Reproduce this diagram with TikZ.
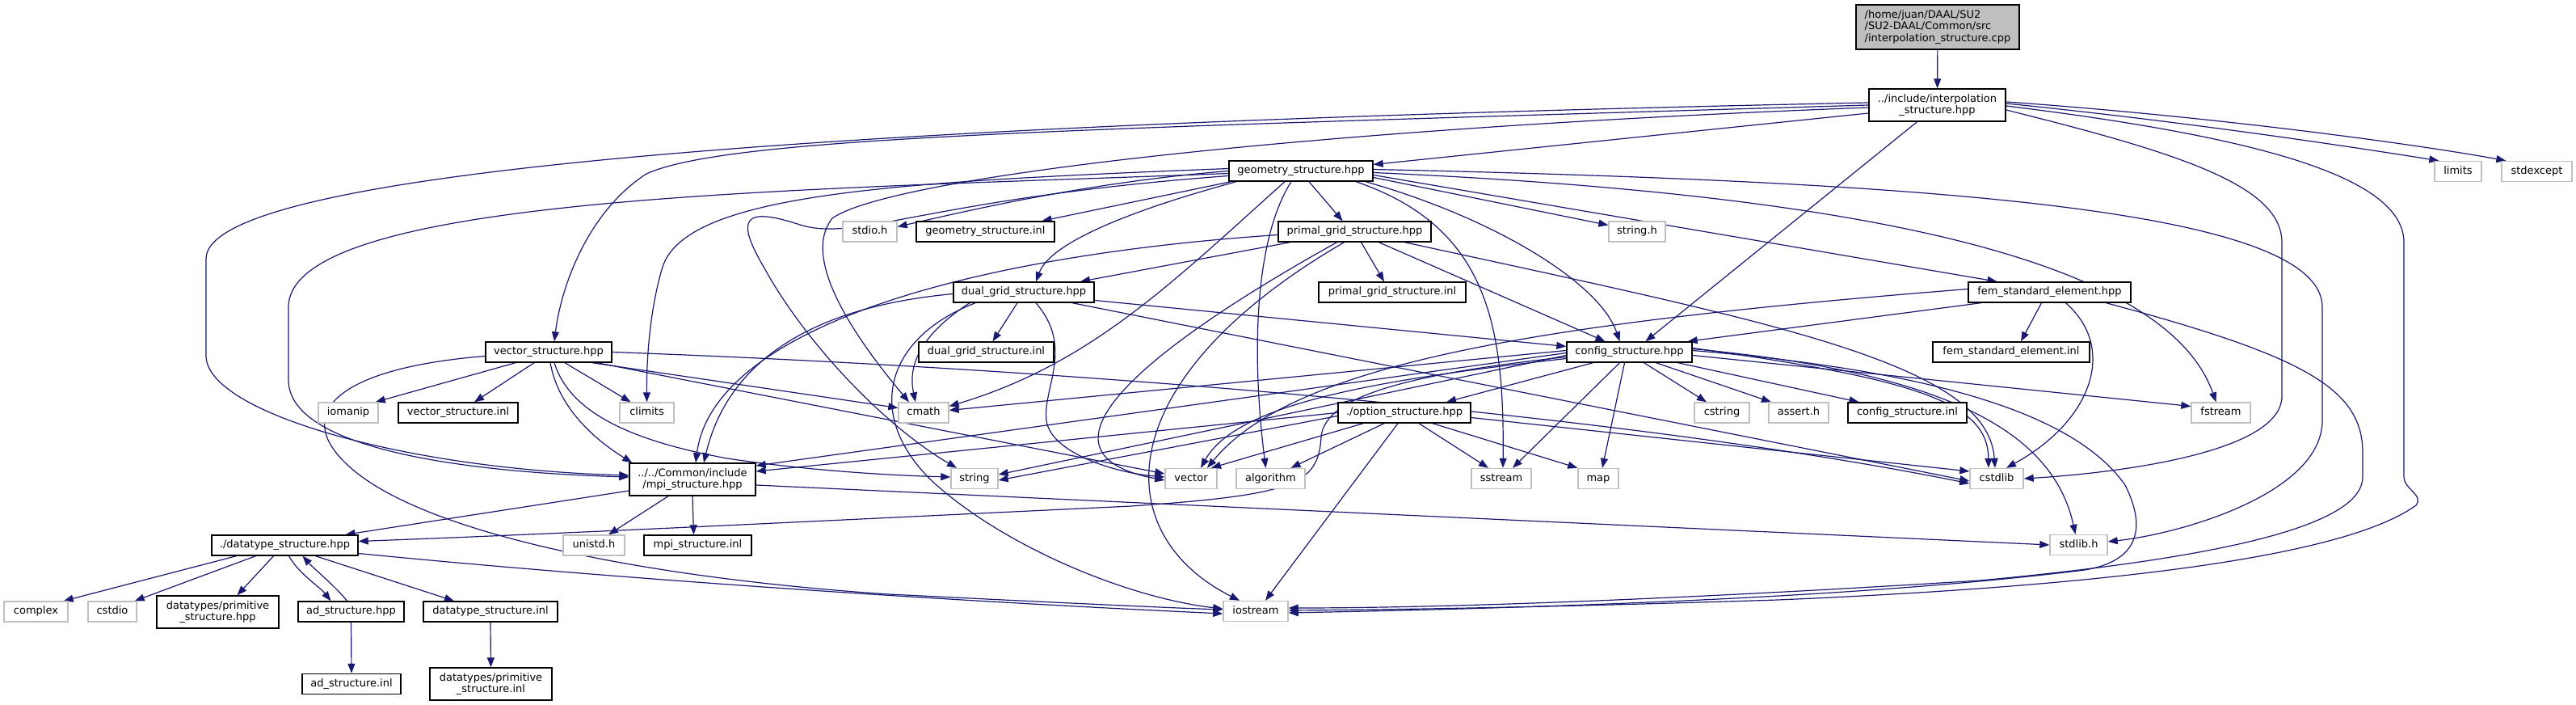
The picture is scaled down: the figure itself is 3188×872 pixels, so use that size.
\documentclass[tikz,border=0pt]{standalone}
\usepackage{fontspec}
\setmainfont{DejaVu Sans}
\usetikzlibrary{arrows.meta}
\definecolor{edgeblue}{HTML}{191970}
\definecolor{sysgray}{HTML}{BFBFBF}
\definecolor{rootgray}{HTML}{BFBFBF}
\pgfdeclarelayer{bg}
\pgfsetlayers{bg,main}
\tikzset{
  nb/.style={draw=black, fill=white, line width=1.4pt, inner xsep=2pt, inner ysep=0pt, minimum height=25pt, text height=9.5pt, text depth=3pt},
  ns/.style={nb, draw=sysgray},
  nm/.style={draw=black, fill=white, line width=1.4pt, inner xsep=2pt, inner ysep=0pt, minimum height=40pt, align=center},
  edg/.style={draw=edgeblue, line width=1.2pt, -{Triangle[length=12pt,width=9pt]}},
}
\begin{document}
\begin{tikzpicture}[x=1pt,y=-1pt,font=\fontsize{13}{14.5}\selectfont]
\path[use as bounding box] (0,0) rectangle (3188,872);
% nodes
\node[nm, fill=rootgray, align=left, minimum width=202pt, minimum height=55pt] (root) at (2398,33.5) {/home/juan/DAAL/SU2\\/SU2-DAAL/Common/src\\/interpolation\_structure.cpp};
\node[nm, minimum width=169pt] (interp) at (2397.5,130) {../include/interpolation\\\_structure.hpp};
\node[nb, minimum width=178pt] (geom) at (1610,211.5) {geometry\_structure.hpp};
\node[ns, minimum width=58pt] (limits) at (3042,212) {limits};
\node[ns, minimum width=87pt] (stdexc) at (3139.5,212) {stdexcept};
\node[nb, minimum width=156pt] (vecs) at (679,435.5) {vector\_structure.hpp};
\node[ns, minimum width=67pt] (stdioh) at (1076.5,286.5) {stdio.h};
\node[nb, minimum width=171pt] (geominl) at (1219.5,286.5) {geometry\_structure.inl};
\node[nb, minimum width=189pt] (primal) at (1676.5,286.5) {primal\_grid\_structure.hpp};
\node[ns, minimum width=70pt] (stringh) at (2026,286.5) {string.h};
\node[nb, minimum width=174pt] (dual) at (1267,361.5) {dual\_grid\_structure.hpp};
\node[nb, minimum width=182pt] (primalinl) at (1723,361.5) {primal\_grid\_structure.inl};
\node[nb, minimum width=201pt] (fem) at (2536.5,361.5) {fem\_standard\_element.hpp};
\node[nb, minimum width=167pt] (dualinl) at (1220.5,435.5) {dual\_grid\_structure.inl};
\node[nb, minimum width=155pt] (config) at (2016.5,435.5) {config\_structure.hpp};
\node[nb, minimum width=194pt] (feminl) at (2489,435.5) {fem\_standard\_element.inl};
\node[ns, minimum width=74pt] (iomanip) at (431,510.5) {iomanip};
\node[nb, minimum width=148pt] (vecinl) at (567,510.5) {vector\_structure.inl};
\node[ns, minimum width=67pt] (climits) at (800.5,510.5) {climits};
\node[ns, minimum width=62pt] (cmath) at (1143,510.5) {cmath};
\node[nb, minimum width=164pt] (option) at (1738,510.5) {./option\_structure.hpp};
\node[ns, minimum width=68pt] (cstring) at (2131,510.5) {cstring};
\node[ns, minimum width=74pt] (asserth) at (2226,510.5) {assert.h};
\node[nb, minimum width=147pt] (configinl) at (2360.5,510.5) {config\_structure.inl};
\node[ns, minimum width=73pt] (fstream) at (2748.5,510.5) {fstream};
\node[nm, minimum width=156pt] (mpi) at (857,593) {../../Common/include\\/mpi\_structure.hpp};
\node[ns, minimum width=58pt] (string) at (1206,592) {string};
\node[ns, minimum width=64pt] (vector) at (1474,592) {vector};
\node[ns, minimum width=85pt] (algorithm) at (1572.5,592) {algorithm};
\node[ns, minimum width=74pt] (sstream) at (1858,592) {sstream};
\node[ns, minimum width=50pt] (map) at (1978,592) {map};
\node[ns, minimum width=66pt] (cstdlib) at (2471,592) {cstdlib};
\node[nb, minimum width=181pt] (datatype) at (352.5,674.5) {./datatype\_structure.hpp};
\node[ns, minimum width=76pt] (unistd) at (735,674.5) {unistd.h};
\node[nb, minimum width=133pt] (mpiinl) at (863.5,674.5) {mpi\_structure.inl};
\node[ns, minimum width=71pt] (stdlibh) at (2572.5,674) {stdlib.h};
\node[ns, minimum width=79pt] (complex) at (44.5,756.5) {complex};
\node[ns, minimum width=60pt] (cstdio) at (139,756.5) {cstdio};
\node[nm, minimum width=151pt] (primhpp) at (269.5,757) {datatypes/primitive\\\_structure.hpp};
\node[nb, minimum width=131pt] (ad) at (434.5,756.5) {ad\_structure.hpp};
\node[nb, minimum width=166pt] (datainl) at (607,756.5) {datatype\_structure.inl};
\node[ns, minimum width=80pt] (iostream) at (1554,756) {iostream};
\node[nb, minimum width=122pt] (adinl) at (435,846) {ad\_structure.inl};
\node[nm, minimum width=151pt] (priminl) at (607.5,846) {datatypes/primitive\\\_structure.inl};

\begin{pgfonlayer}{bg}
% root / interp
\draw[edg] (root) -- (interp);
\draw[edg] ([yshift=-10pt]interp.west) -- ([yshift=8pt]geom.east);
\draw[edg] ([yshift=3pt]interp.west) .. controls (1200,150) and (255,200) .. (255,320) -- (255,440) .. controls (255,510) and (500,580) .. ([yshift=5pt]mpi.west);
\draw[edg] (interp.west) .. controls (1300,160) and (900,170) .. (800,215) .. controls (730,260) and (695,350) .. ([xshift=7pt]vecs.north);
\draw[edg] ([yshift=-3pt]interp.west) .. controls (1600,160) and (1100,220) .. (1030,270) .. controls (990,320) and (1060,420) .. ([xshift=-18pt]cmath.north);
\draw[edg] ([xshift=-25pt]interp.south) -- ([xshift=20pt]config.north);
\draw[edg] ([yshift=2pt]interp.east) .. controls (2700,150) and (2900,180) .. ([xshift=6pt]limits.north west);
\draw[edg] ([yshift=4pt]interp.east) .. controls (2750,145) and (3000,180) .. ([xshift=6pt]stdexc.north west);
\draw[edg] ([yshift=-6pt]interp.east) .. controls (2700,190) and (2824,230) .. (2824,300) -- (2824,490) .. controls (2824,560) and (2620,585) .. (cstdlib.east);
\draw[edg] ([yshift=-1pt]interp.east) .. controls (2800,170) and (2975,220) .. (2975,300) -- (2975,590) .. controls (2975,605) and (3000,612) .. (2990,625) .. controls (2900,690) and (2600,725) .. (2200,742) .. controls (1950,750) and (1750,754) .. ([yshift=1pt]iostream.east);
% geometry
\draw[edg] ([yshift=-3pt]geom.west) .. controls (1000,235) and (357,240) .. (357,380) -- (357,470) .. controls (357,560) and (600,585) .. ([yshift=3pt]mpi.west);
\draw[edg] ([yshift=-6pt]geom.west) .. controls (1150,245) and (1060,300) .. (990,278) .. controls (920,255) and (910,270) .. (945,330) .. controls (1000,430) and (1100,530) .. ([xshift=-22pt]string.north);
\draw[edg] ([yshift=-2pt]geom.east) .. controls (2300,240) and (2680,320) .. ([xshift=-6pt]fstream.north);
\draw[edg] ([yshift=2pt]geom.east) .. controls (2400,225) and (2874,260) .. (2874,380) -- (2874,520) .. controls (2874,610) and (2700,660) .. ([yshift=4pt]stdlibh.east);
\draw[edg] ([yshift=-8pt]geom.east) -- ([yshift=8pt]stringh.west);
\draw[edg] ([yshift=-5pt]geom.east) -- ([xshift=-65pt]fem.north);
\draw[edg] ([xshift=80pt]geom.south) .. controls (1850,270) and (1980,350) .. ([xshift=-12pt]config.north);
\draw[edg] ([xshift=10pt]geom.south) -- ([xshift=-15pt]primal.north);
\draw[edg] ([xshift=-80pt]geom.south) .. controls (1400,260) and (1300,300) .. ([xshift=15pt]dual.north);
\draw[edg] ([xshift=3pt]geom.south west) -- ([xshift=70pt]geominl.north);
\draw[edg] (geom.west) .. controls (1350,225) and (1200,260) .. ([yshift=6pt]stdioh.east);
\draw[edg] ([yshift=3pt]geom.west) .. controls (1100,225) and (850,240) .. (820,330) .. controls (805,380) and (800,440) .. (climits.north);
\draw[edg] ([xshift=-20pt]geom.south) .. controls (1450,350) and (1350,450) .. ([yshift=8pt]cmath.east);
\draw[edg] ([xshift=68pt]geom.south) .. controls (1840,280) and (1862,400) .. ([xshift=2pt]sstream.north);
\draw[edg] ([xshift=-12pt]geom.south) .. controls (1550,300) and (1550,450) .. ([xshift=-6pt]algorithm.north);
% primal
\draw[edg] ([xshift=8pt]primal.south) -- ([xshift=-10pt]primalinl.north);
\draw[edg] ([xshift=30pt]primal.south) -- ([xshift=-30pt]config.north);
\draw[edg] ([xshift=-80pt]primal.south) -- ([xshift=70pt]dual.north);
\draw[edg] ([yshift=-4pt]primal.west) .. controls (1150,320) and (880,420) .. ([xshift=4pt]mpi.north);
\draw[edg] ([xshift=-22pt]primal.south) .. controls (1420,430) and (1260,560) .. ([yshift=-2pt]vector.west);
\draw[edg] ([xshift=-13pt]primal.south) .. controls (1370,470) and (1370,660) .. ([xshift=-20pt]iostream.north);
\draw[edg] ([xshift=62pt]primal.south) .. controls (2200,400) and (2460,450) .. ([xshift=-2pt]cstdlib.north);
% dual
\draw[edg] ([xshift=-8pt]dual.south) -- ([xshift=8pt]dualinl.north);
\draw[edg] ([xshift=-67pt]dual.south) .. controls (1130,420) and (1125,460) .. ([xshift=-10pt]cmath.north);
\draw[edg] ([yshift=-2pt]dual.west) .. controls (1000,380) and (900,450) .. ([xshift=14pt]mpi.north);
\draw[edg] ([xshift=-60pt]dual.south) .. controls (1090,420) and (1070,520) .. (1159,600) .. controls (1250,680) and (1400,740) .. ([yshift=3pt]iostream.west);
\draw[edg] ([xshift=15pt]dual.south) .. controls (1330,430) and (1290,480) .. (1295,520) .. controls (1300,560) and (1380,585) .. ([yshift=2pt]vector.west);
\draw[edg] ([xshift=60pt]dual.south) -- ([yshift=-3pt]cstdlib.west);
\draw[edg] ([yshift=-10pt]dual.east) -- ([yshift=7pt]config.west);
% vector_structure
\draw[edg] ([xshift=-41pt]vecs.south) -- ([xshift=-4pt]iomanip.north east);
\draw[edg] ([xshift=-18pt]vecs.south) -- ([xshift=20pt]vecinl.north);
\draw[edg] ([xshift=20pt]vecs.south) -- ([xshift=-20pt]climits.north);
\draw[edg] ([xshift=54pt]vecs.south) -- ([yshift=6pt]cmath.west);
\draw[edg] ([xshift=2pt]vecs.south) .. controls (690,500) and (730,540) .. ([xshift=4pt]mpi.north west);
\draw[edg] ([xshift=7pt]vecs.south) .. controls (705,510) and (780,545) .. (900,567) .. controls (1000,582) and (1100,588) .. ([yshift=2pt]string.west);
\draw[edg] ([xshift=60pt]vecs.south) -- ([yshift=6pt]vector.west);
\draw[edg] (vecs.east) .. controls (1300,455) and (2000,510) .. ([yshift=-6pt]cstdlib.west);
\draw[edg] ([yshift=-5pt]vecs.west) .. controls (420,455) and (360,510) .. (430,575) .. controls (520,660) and (800,715) .. (1100,735) .. controls (1300,745) and (1450,752) .. ([yshift=2pt]iostream.west);
% option
\draw[edg] ([xshift=18pt]option.south) -- ([xshift=-16pt]sstream.north);
\draw[edg] ([xshift=35pt]option.south) -- (map.north west);
\draw[edg] ([xshift=-8pt]option.south) -- ([xshift=12pt]iostream.north);
\draw[edg] ([xshift=-25pt]option.south) -- ([xshift=25pt]algorithm.north);
\draw[edg] ([xshift=-51pt]option.south) -- ([xshift=25pt]vector.north);
\draw[edg] ([yshift=-4pt]option.west) -- ([yshift=-2pt]string.east);
\draw[edg] (option.west) -- ([yshift=10pt]mpi.east);
\draw[edg] ([yshift=-6pt]option.east) -- ([yshift=9pt]cstdlib.west);
% config
\draw[edg] ([xshift=-45pt]config.south) -- ([xshift=52pt]option.north);
\draw[edg] ([xshift=18pt]config.south) -- ([xshift=-19pt]cstring.north);
\draw[edg] ([xshift=33pt]config.south) -- ([xshift=-34pt]asserth.north);
\draw[edg] ([xshift=60pt]config.south) -- ([xshift=-60pt]configinl.north);
\draw[edg] ([xshift=-12pt]config.south) -- ([xshift=14pt]sstream.north);
\draw[edg] ([xshift=-6pt]config.south) -- ([xshift=5pt]map.north);
\draw[edg] ([yshift=-4pt]config.west) -- ([yshift=5pt]string.east);
\draw[edg] ([yshift=-1pt]config.west) -- ([yshift=17pt]mpi.east);
\draw[edg] ([yshift=2pt]config.west) -- ([yshift=3pt]cmath.east);
\draw[edg] ([yshift=-8pt]config.west) .. controls (1700,470) and (1530,500) .. ([xshift=12pt]vector.north);
\draw[edg] ([yshift=-6pt]config.west) .. controls (1720,465) and (1640,495) .. (1635,540) .. controls (1632,600) and (1600,612) .. (1400,626) .. controls (1000,645) and (700,660) .. ([yshift=5pt]datatype.east);
\draw[edg] ([yshift=2pt]config.east) .. controls (2350,455) and (2560,500) .. (2630,600) .. controls (2660,660) and (2640,695) .. (2580,705) .. controls (2300,740) and (1900,752) .. ([yshift=-2pt]iostream.east);
\draw[edg] ([yshift=5pt]config.east) .. controls (2380,470) and (2460,500) .. ([xshift=-10pt]cstdlib.north);
\draw[edg] ([yshift=4pt]config.east) .. controls (2400,460) and (2540,530) .. ([xshift=-4pt]stdlibh.north);
\draw[edg] ([yshift=-4pt]config.east) -- ([yshift=8pt]fstream.west);
% mpi
\draw[edg] ([yshift=-14pt]mpi.west) -- ([xshift=75pt]datatype.north);
\draw[edg] ([xshift=-30pt]mpi.south) -- ([xshift=18pt]unistd.north);
\draw[edg] (mpi.south) -- ([xshift=-5pt]mpiinl.north);
\draw[edg] ([yshift=-7pt]mpi.east) -- (stdlibh.west);
% datatype
\draw[edg] ([xshift=-60pt]datatype.south) -- ([xshift=-6pt]complex.north east);
\draw[edg] ([xshift=-36pt]datatype.south) -- ([xshift=-3pt]cstdio.north east);
\draw[edg] ([xshift=-14pt]datatype.south) -- ([xshift=24pt]primhpp.north);
\draw[edg] ([xshift=5pt]datatype.south) .. controls (370,710) and (395,725) .. ([xshift=-25pt]ad.north);
\draw[edg] ([xshift=-5pt]ad.north) .. controls (415,725) and (390,705) .. ([xshift=22pt]datatype.south);
\draw[edg] ([xshift=38pt]datatype.south) -- ([xshift=-45pt]datainl.north);
\draw[edg] ([yshift=-10pt]datatype.east) .. controls (700,710) and (1100,740) .. ([yshift=-3pt]iostream.west);
\draw[edg] (ad.south) -- (adinl.north);
\draw[edg] (datainl.south) -- (priminl.north);
% fem
\draw[edg] ([xshift=-85pt]fem.south) -- ([xshift=-6pt]config.north east);
\draw[edg] ([xshift=-10pt]fem.south) -- ([xshift=12pt]feminl.north);
\draw[edg] ([xshift=20pt]fem.south) .. controls (2620,430) and (2590,520) .. ([xshift=12pt]cstdlib.north);
\draw[edg] ([xshift=70pt]fem.south) .. controls (2850,440) and (2924,480) .. (2924,560) -- (2924,590) .. controls (2924,650) and (2750,690) .. (2450,718) .. controls (2100,740) and (1800,752) .. ([yshift=4pt]iostream.east);
\draw[edg] ([yshift=4pt]fem.west) .. controls (1900,400) and (1600,450) .. ([xshift=20pt]vector.north);
\end{pgfonlayer}
\end{tikzpicture}
\end{document}
